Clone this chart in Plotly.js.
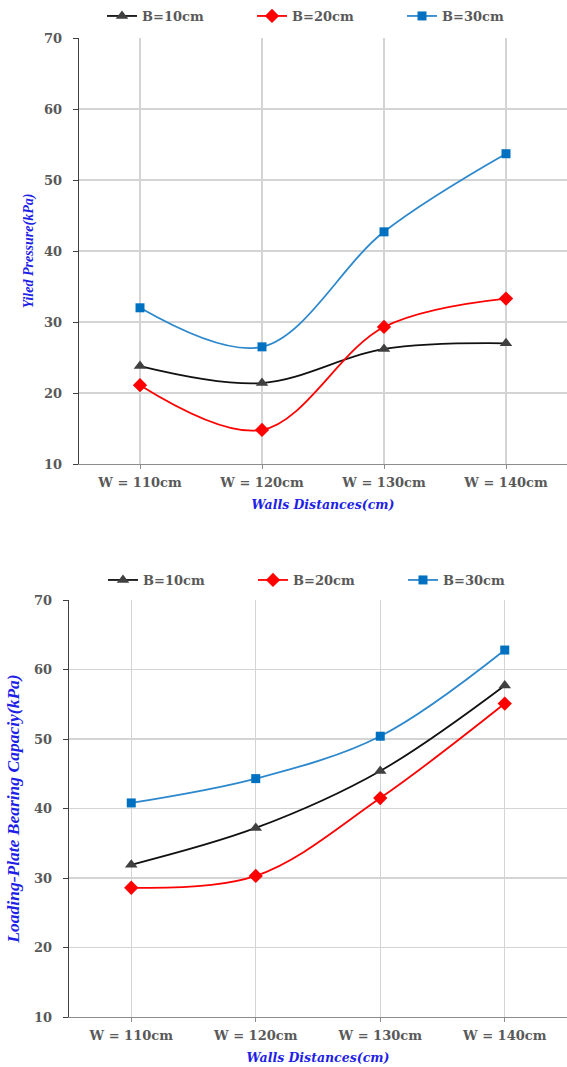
<!DOCTYPE html>
<html>
<head>
<meta charset="utf-8">
<script src="https://cdn.plot.ly/plotly-3.0.1.min.js"></script>
<style>html,body{margin:0;padding:0;background:#fff;}#chart{width:567px;height:1067px;}</style>
</head>
<body>
<div id="chart"></div>
<script>
const categories = ["W = 110cm", "W = 120cm", "W = 130cm", "W = 140cm"];
const seriesNames = ["B=10cm", "B=20cm", "B=30cm"];

// Top chart: Yield pressure (kPa)
const yieldB10 = [23.8, 21.4, 26.2, 27.0];
const yieldB20 = [21.1, 14.8, 29.3, 33.3];
const yieldB30 = [32.0, 26.5, 42.7, 53.7];

// Bottom chart: Loading-plate bearing capacity (kPa)
const bearingB10 = [31.9, 37.2, 45.4, 57.7];
const bearingB20 = [28.6, 30.3, 41.5, 55.1];
const bearingB30 = [40.8, 44.3, 50.4, 62.8];

const yTickVals = [10, 20, 30, 40, 50, 60, 70];

const W = 567, H = 1067;
const styles = [
  {line: '#111111', marker: '#404040', symbol: 'triangle-up', size: 11},
  {line: '#ff0000', marker: '#ff0000', symbol: 'diamond', size: 11},
  {line: '#2e88cc', marker: '#0070c0', symbol: 'square', size: 9}
];

function mk(vals, i, xa, ya, leg) {
  const s = styles[i];
  return {
    x: categories, y: vals, name: seriesNames[i], type: 'scatter', mode: 'lines+markers',
    xaxis: xa, yaxis: ya, legend: leg,
    line: {color: s.line, width: 1.8, shape: 'spline', smoothing: 1},
    marker: {color: s.marker, symbol: s.symbol, size: s.size}
  };
}

const data = [
  mk(yieldB10, 0, 'x', 'y', 'legend'),
  mk(yieldB20, 1, 'x', 'y', 'legend'),
  mk(yieldB30, 2, 'x', 'y', 'legend'),
  mk(bearingB10, 0, 'x2', 'y2', 'legend2'),
  mk(bearingB20, 1, 'x2', 'y2', 'legend2'),
  mk(bearingB30, 2, 'x2', 'y2', 'legend2')
];

const tickFont = {family: 'DejaVu Serif', size: 13, color: '#595959', weight: 'bold'};
const xTitleFont = {family: 'DejaVu Serif', size: 12.5, color: '#1f1fe6', weight: 'bold', style: 'italic'};

function xax(left, anchor) {
  return {
    domain: [left / W, 1], anchor: anchor, type: 'category', range: [-0.5, 3.5],
    showgrid: true, gridcolor: '#d4d4d4', gridwidth: 1.3,
    showline: true, linecolor: '#8c8c8c', linewidth: 1.3,
    ticks: 'outside', ticklen: 4, tickcolor: '#8c8c8c', tickwidth: 1,
    tickfont: tickFont, ticklabelstandoff: 2,
    title: {text: 'Walls Distances(cm)', font: xTitleFont, standoff: 11},
    automargin: false, fixedrange: true
  };
}
function yax(top, bottom, anchor, title, tsize, standoff) {
  return {
    domain: [1 - bottom / H, 1 - top / H], anchor: anchor, range: [10, 70],
    tickvals: yTickVals, zeroline: false,
    showgrid: true, gridcolor: '#d4d4d4', gridwidth: 1.3,
    showline: true, linecolor: '#404040', linewidth: 1.3,
    ticks: 'outside', ticklen: 5, tickcolor: '#404040', tickwidth: 1,
    tickfont: tickFont, ticklabelstandoff: 8,
    title: {text: title, font: {family: 'Liberation Serif', size: tsize, color: '#1f1fe6', weight: 'bold', style: 'italic'}, standoff: standoff},
    automargin: false, fixedrange: true
  };
}
const legFont = {family: 'DejaVu Serif', size: 13, color: '#595959', weight: 'bold'};
function leg(yPix, xPix) {
  return {
    orientation: 'h', x: xPix / W, xanchor: 'left', y: 1 - yPix / H, yanchor: 'middle',
    font: legFont, bgcolor: 'rgba(0,0,0,0)', borderwidth: 0,
    entrywidth: 105, entrywidthmode: 'pixels', itemwidth: 30, itemclick: false
  };
}

const layout = {
  width: W, height: H,
  margin: {l: 0, r: 0, t: 0, b: 0},
  paper_bgcolor: '#ffffff', plot_bgcolor: '#ffffff',
  showlegend: true,
  xaxis: xax(79, 'y'),
  yaxis: yax(38, 464, 'x', 'Yiled Pressure(kPa)', 14, 7),
  xaxis2: xax(69, 'y2'),
  yaxis2: yax(600, 1017, 'x2', 'Loading-Plate Bearing Capaciy(kPa)', 17.5, 10),
  legend: leg(16, 102),
  legend2: leg(580, 103)
};

Plotly.newPlot('chart', data, layout, {displayModeBar: false, staticPlot: true});
</script>
</body>
</html>
